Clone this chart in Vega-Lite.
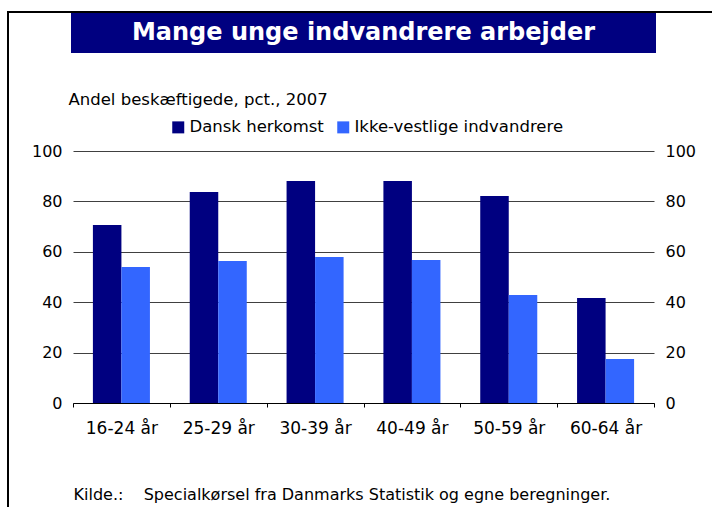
{
  "$schema": "https://vega.github.io/schema/vega-lite/v6.json",
  "padding": {"left": 7, "top": 11, "right": 0, "bottom": 0},
  "background": "white",
  "config": {"font": "DejaVu Sans", "view": {"stroke": null}},
  "bounds": "flush",
  "spacing": 0,
  "datasets": {
    "emp": [
      {"alder": "16-24 år", "gruppe": "Dansk herkomst", "pct": 70.6},
      {"alder": "16-24 år", "gruppe": "Ikke-vestlige indvandrere", "pct": 54.0},
      {"alder": "25-29 år", "gruppe": "Dansk herkomst", "pct": 83.7},
      {"alder": "25-29 år", "gruppe": "Ikke-vestlige indvandrere", "pct": 56.3},
      {"alder": "30-39 år", "gruppe": "Dansk herkomst", "pct": 88.1},
      {"alder": "30-39 år", "gruppe": "Ikke-vestlige indvandrere", "pct": 57.9},
      {"alder": "40-49 år", "gruppe": "Dansk herkomst", "pct": 88.1},
      {"alder": "40-49 år", "gruppe": "Ikke-vestlige indvandrere", "pct": 56.7},
      {"alder": "50-59 år", "gruppe": "Dansk herkomst", "pct": 82.1},
      {"alder": "50-59 år", "gruppe": "Ikke-vestlige indvandrere", "pct": 42.9},
      {"alder": "60-64 år", "gruppe": "Dansk herkomst", "pct": 41.7},
      {"alder": "60-64 år", "gruppe": "Ikke-vestlige indvandrere", "pct": 17.5}
    ],
    "blank": [{"k": 1}],
    "head": [{"t": "Mange unge indvandrere arbejder"}]
  },
  "vconcat": [
    {
      "width": 705, "height": 2,
      "data": {"name": "blank"},
      "mark": {"type": "rect", "color": "black"},
      "encoding": {}
    },
    {
      "bounds": "flush",
      "spacing": 62,
      "hconcat": [
        {
          "width": 2, "height": 494,
          "data": {"name": "blank"},
          "mark": {"type": "rect", "color": "black"},
          "encoding": {}
        },
        {
          "bounds": "flush",
          "spacing": 98,
          "center": true,
          "vconcat": [
            {
              "width": 585, "height": 40,
              "data": {"name": "head"},
              "layer": [
                {"mark": {"type": "rect", "color": "#000080"}, "encoding": {}},
                {"mark": {"type": "text", "color": "white", "fontSize": 24, "fontWeight": "bold", "font": "DejaVu Sans"},
                 "encoding": {"text": {"field": "t", "type": "nominal"}}}
              ]
            },
            {
              "width": 581, "height": 252,
              "data": {"name": "emp"},
              "title": {"text": "Andel beskæftigede, pct., 2007", "anchor": "start", "fontSize": 16.5, "fontWeight": "normal", "color": "black", "offset": 35, "dx": 37},
              "encoding": {
                "x": {
                  "field": "alder", "type": "nominal", "sort": null,
                  "scale": {"paddingInner": 0, "paddingOuter": 0},
                  "axis": {
                    "labelAngle": 0, "labelFontSize": 17, "labelColor": "black", "labelPadding": 13,
                    "tickBand": "extent", "tickSize": 4, "tickColor": "black",
                    "domainColor": "black", "grid": false,
                    "title": "Kilde.:\u00a0\u00a0\u00a0 Specialkørsel fra Danmarks Statistik og egne beregninger.",
                    "titleAnchor": "start", "titleFontSize": 16, "titleFontWeight": "normal", "titleColor": "black", "titlePadding": 50
                  }
                },
                "y": {"field": "pct", "type": "quantitative", "scale": {"domain": [0, 100]}}
              },
              "layer": [
                {
                  "mark": {"type": "bar"},
                  "encoding": {
                    "xOffset": {"field": "gruppe", "type": "nominal", "scale": {"paddingInner": 0, "paddingOuter": 0.698}},
                    "color": {
                      "field": "gruppe", "type": "nominal",
                      "scale": {"range": ["#000080", "#3366FF"]},
                      "legend": {
                        "title": null, "orient": "none", "direction": "horizontal",
                        "legendX": 163, "legendY": 108,
                        "symbolType": "square", "symbolSize": 144, "symbolStrokeWidth": 0,
                        "labelFontSize": 16.5, "labelColor": "black", "labelOffset": 3, "columnPadding": 11, "labelLimit": 0
                      }
                    },
                    "y": {
                      "field": "pct", "type": "quantitative",
                      "axis": {
                        "orient": "left", "values": [0, 20, 40, 60, 80, 100], "grid": true,
                        "gridColor": "#404040", "gridOpacity": 1, "domain": false, "ticks": false, "tickSize": 0,
                        "labelPadding": 11, "labelFontSize": 16, "labelColor": "black", "title": null
                      }
                    }
                  }
                },
                {
                  "mark": {"type": "tick", "opacity": 0},
                  "encoding": {
                    "y": {
                      "field": "pct", "type": "quantitative",
                      "axis": {
                        "orient": "right", "values": [0, 20, 40, 60, 80, 100], "grid": false,
                        "domain": false, "ticks": false, "tickSize": 0,
                        "labelPadding": 11, "labelFontSize": 16, "labelColor": "black", "title": null
                      }
                    }
                  }
                }
              ],
              "resolve": {"axis": {"y": "independent"}}
            }
          ]
        }
      ]
    }
  ]
}
